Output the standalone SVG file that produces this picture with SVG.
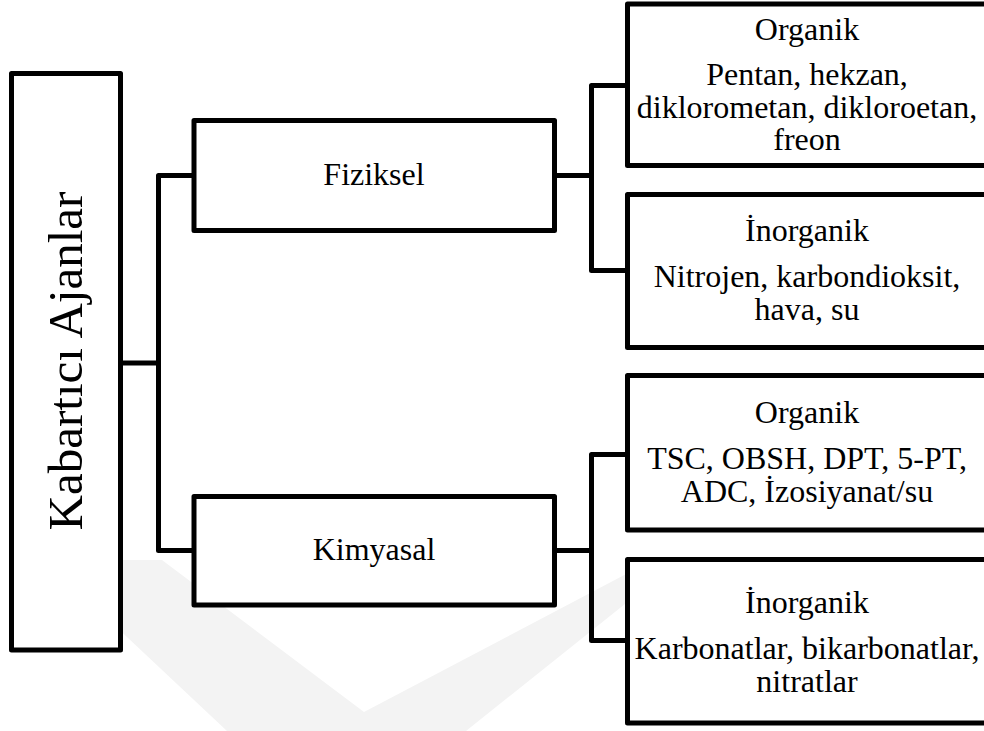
<svg xmlns="http://www.w3.org/2000/svg" width="984" height="731" viewBox="0 0 984 731">
  <style>
    .box { fill: #ffffff; stroke: #000000; stroke-width: 5; stroke-linejoin: round; }
    .conn { fill: none; stroke: #000000; stroke-width: 5; stroke-linejoin: round; }
    text { font-family: 'Liberation Serif', 'DejaVu Serif', serif; font-size: 32px; fill: #000000; text-anchor: middle; }
    .root { font-size: 49px; }
  </style>
  <rect width="984" height="731" fill="#ffffff"/>
  <g id="watermark">
    <polygon points="45,560 162,560 364,712 630,572 630,600 466,731 227,731" fill="#f3f3f3"/>
  </g>
  <g id="connectors">
    <path class="conn" d="M120.5,363 H158.5 M194,175.5 H158.5 V550.5 H194"/>
    <path class="conn" d="M554.5,175.5 H591.5 M627.5,85.5 H591.5 V270.5 H627.5"/>
    <path class="conn" d="M554.5,550.5 H591.5 M627.5,454.5 H591.5 V640.5 H627.5"/>
  </g>
  <g id="root">
    <rect class="box" x="11.5" y="73.5" width="109" height="576.5"/>
    <text class="root" transform="translate(82,361) rotate(-90)">Kabartıcı Ajanlar</text>
  </g>
  <g id="fiziksel">
    <rect class="box" x="194" y="120.5" width="360.5" height="110"/>
    <text x="374" y="185">Fiziksel</text>
  </g>
  <g id="kimyasal">
    <rect class="box" x="194" y="496.5" width="360.5" height="108.5"/>
    <text x="374" y="560">Kimyasal</text>
  </g>
  <g id="fiz-organik">
    <rect class="box" x="627.5" y="4" width="380" height="161.5"/>
    <text x="807" y="39.5">Organik</text>
    <text x="807" y="85">Pentan, hekzan,</text>
    <text x="807" y="117.5">diklorometan, dikloroetan,</text>
    <text x="807" y="150">freon</text>
  </g>
  <g id="fiz-inorganik">
    <rect class="box" x="627.5" y="194.5" width="380" height="153"/>
    <text x="807" y="240.7">İnorganik</text>
    <text x="807" y="286.7">Nitrojen, karbondioksit,</text>
    <text x="807" y="320">hava, su</text>
  </g>
  <g id="kim-organik">
    <rect class="box" x="627.5" y="375.5" width="380" height="154.5"/>
    <text x="807" y="423.3">Organik</text>
    <text x="807" y="469">TSC, OBSH, DPT, 5-PT,</text>
    <text x="807" y="501.7">ADC, İzosiyanat/su</text>
  </g>
  <g id="kim-inorganik">
    <rect class="box" x="627.5" y="559.5" width="380" height="163.5"/>
    <text x="807" y="613.3">İnorganik</text>
    <text x="807" y="659">Karbonatlar, bikarbonatlar,</text>
    <text x="807" y="691.7">nitratlar</text>
  </g>
</svg>
